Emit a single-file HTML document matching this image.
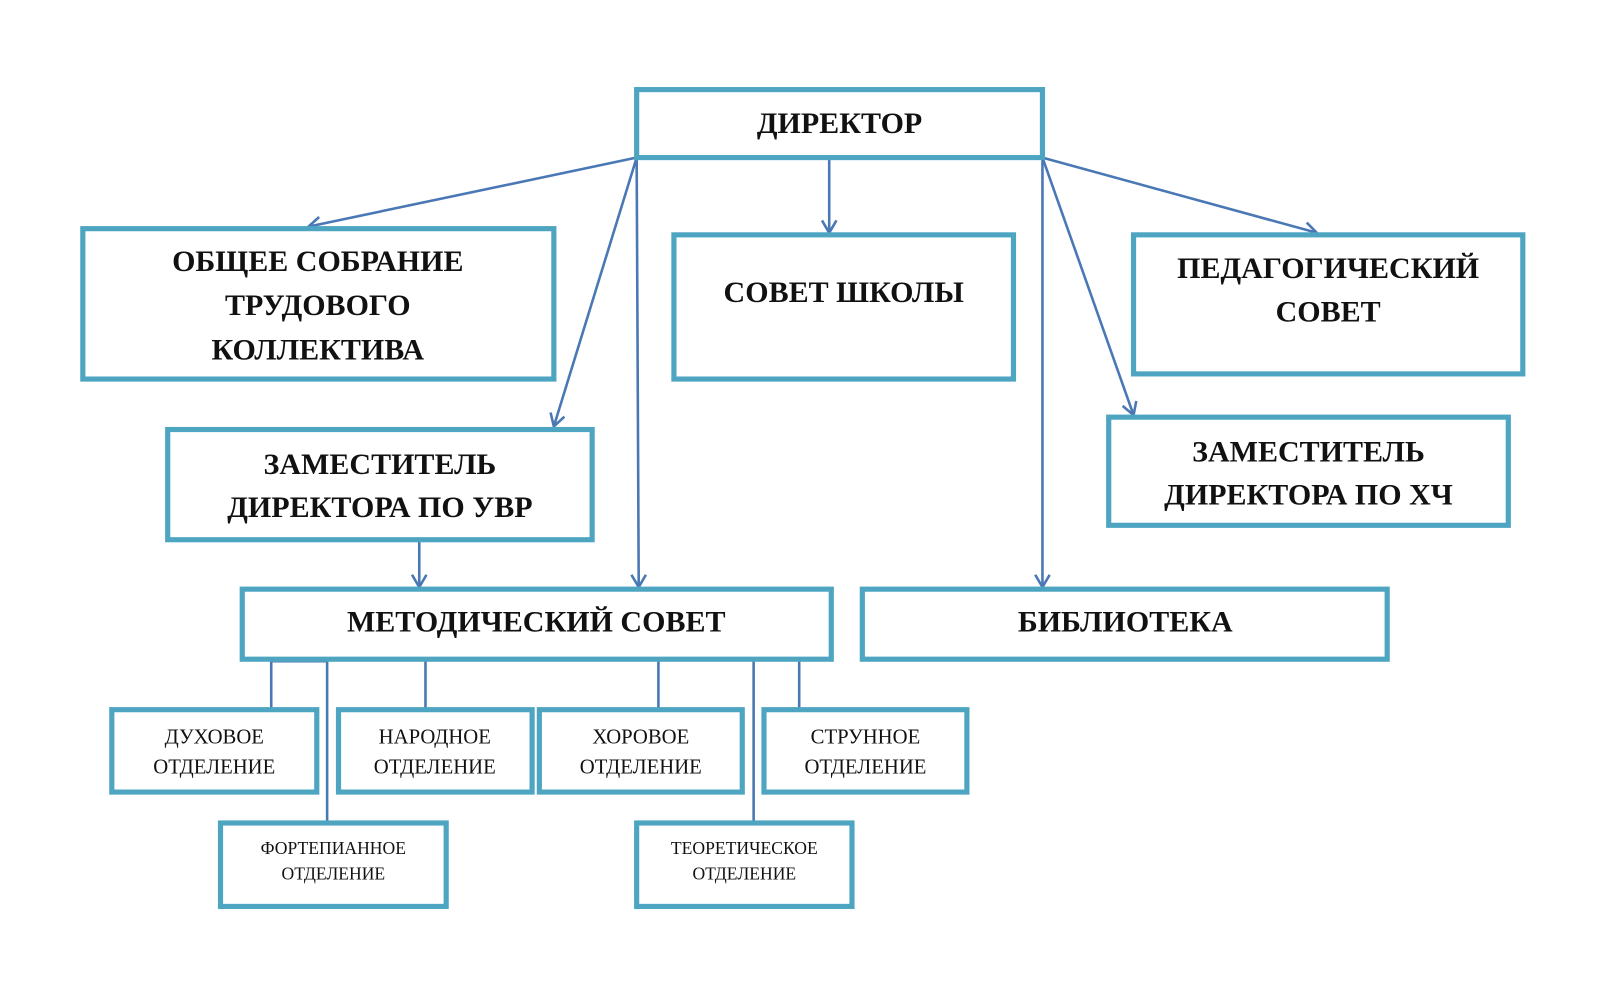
<!DOCTYPE html>
<html><head><meta charset="utf-8"><style>
html,body{margin:0;padding:0;background:#fff;}
svg{display:block;}
.b{fill:#fff;stroke:#4ea5c1;stroke-width:5;}
.t{font-family:"Liberation Serif",serif;font-weight:bold;font-size:29px;fill:#111;text-anchor:middle;}
.s{font-family:"Liberation Serif",serif;font-size:20px;fill:#111;text-anchor:middle;}
.x{font-family:"Liberation Serif",serif;font-size:17px;fill:#111;text-anchor:middle;}
.l{stroke:#4a78b5;stroke-width:2.5;fill:none;}
</style></head><body>
<svg width="1617" height="995" viewBox="0 0 1562 966" preserveAspectRatio="none">
<defs><marker id="a" markerWidth="20" markerHeight="20" refX="14" refY="8" orient="auto" markerUnits="userSpaceOnUse"><path d="M2,1 L14,8 L2,15" fill="none" stroke="#4a78b5" stroke-width="2.5"/></marker></defs>
<g class="l">
<line x1="615" y1="153" x2="298" y2="220" marker-end="url(#a)"/>
<line x1="615" y1="153" x2="535" y2="414" marker-end="url(#a)"/>
<line x1="615" y1="153" x2="617" y2="570" marker-end="url(#a)"/>
<line x1="801" y1="153" x2="801" y2="226" marker-end="url(#a)"/>
<line x1="1007" y1="153" x2="1272" y2="226" marker-end="url(#a)"/>
<line x1="1007" y1="153" x2="1095" y2="403" marker-end="url(#a)"/>
<line x1="1007" y1="153" x2="1007" y2="570" marker-end="url(#a)"/>
<line x1="405" y1="524" x2="405" y2="570" marker-end="url(#a)"/>
<path d="M262,640 V689 H198"/><path d="M262,642 H316"/>
<line x1="316" y1="640" x2="316" y2="799"/>
<line x1="411" y1="640" x2="411" y2="689"/>
<line x1="636" y1="640" x2="636" y2="689"/>
<line x1="728" y1="640" x2="728" y2="799"/>
<line x1="772" y1="640" x2="772" y2="689"/>
</g>
<rect class="b" x="615" y="87" width="392" height="66"/>
<text class="t" x="811" y="129">ДИРЕКТОР</text>
<rect class="b" x="80" y="222" width="455" height="146"/>
<text class="t" x="307" y="263">ОБЩЕЕ СОБРАНИЕ</text>
<text class="t" x="307" y="306">ТРУДОВОГО</text>
<text class="t" x="307" y="349">КОЛЛЕКТИВА</text>
<rect class="b" x="651" y="228" width="328" height="140"/>
<text class="t" x="815" y="293">СОВЕТ ШКОЛЫ</text>
<rect class="b" x="1095" y="228" width="376" height="135"/>
<text class="t" x="1283" y="270">ПЕДАГОГИЧЕСКИЙ</text>
<text class="t" x="1283" y="312">СОВЕТ</text>
<rect class="b" x="162" y="417" width="410" height="107"/>
<text class="t" x="367" y="460">ЗАМЕСТИТЕЛЬ</text>
<text class="t" x="367" y="502">ДИРЕКТОРА ПО УВР</text>
<rect class="b" x="1071" y="405" width="386" height="105"/>
<text class="t" x="1264" y="448">ЗАМЕСТИТЕЛЬ</text>
<text class="t" x="1264" y="490">ДИРЕКТОРА ПО ХЧ</text>
<rect class="b" x="234" y="572" width="569" height="68"/>
<text class="t" x="518" y="613">МЕТОДИЧЕСКИЙ СОВЕТ</text>
<rect class="b" x="833" y="572" width="507" height="68"/>
<text class="t" x="1087" y="613">БИБЛИОТЕКА</text>
<rect class="b" x="108" y="689" width="198" height="80"/>
<text class="s" x="207" y="722">ДУХОВОЕ</text><text class="s" x="207" y="751">ОТДЕЛЕНИЕ</text>
<rect class="b" x="327" y="689" width="187" height="80"/>
<text class="s" x="420" y="722">НАРОДНОЕ</text><text class="s" x="420" y="751">ОТДЕЛЕНИЕ</text>
<rect class="b" x="521" y="689" width="196" height="80"/>
<text class="s" x="619" y="722">ХОРОВОЕ</text><text class="s" x="619" y="751">ОТДЕЛЕНИЕ</text>
<rect class="b" x="738" y="689" width="196" height="80"/>
<text class="s" x="836" y="722">СТРУННОЕ</text><text class="s" x="836" y="751">ОТДЕЛЕНИЕ</text>
<rect class="b" x="213" y="799" width="218" height="81"/>
<text class="x" x="322" y="829">ФОРТЕПИАННОЕ</text><text class="x" x="322" y="854">ОТДЕЛЕНИЕ</text>
<rect class="b" x="615" y="799" width="208" height="81"/>
<text class="x" x="719" y="829">ТЕОРЕТИЧЕСКОЕ</text><text class="x" x="719" y="854">ОТДЕЛЕНИЕ</text>
</svg>
</body></html>
